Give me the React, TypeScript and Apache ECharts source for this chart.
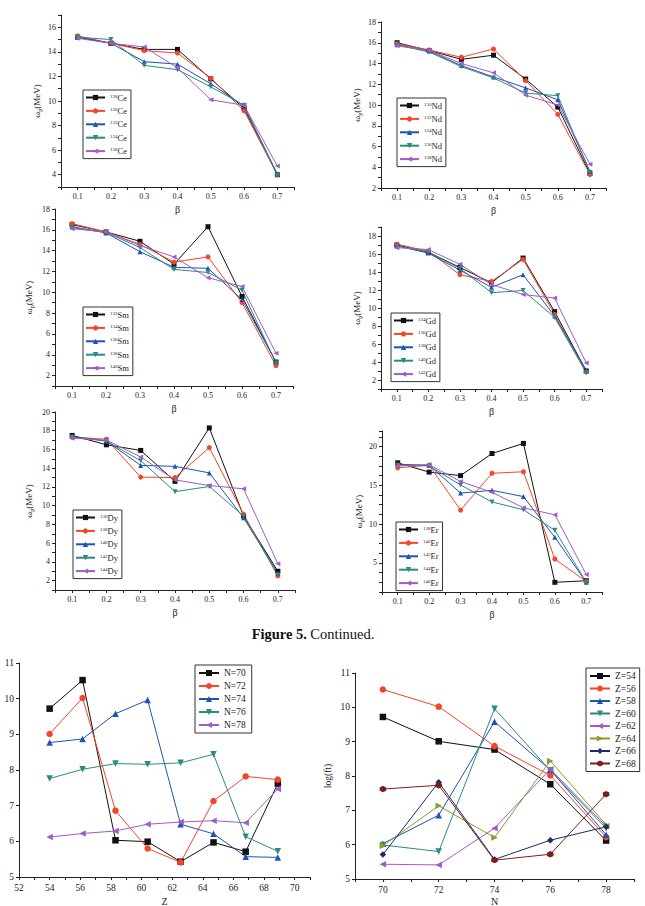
import React, { useEffect, useRef } from 'react';
import * as echarts from 'echarts';

const FONT = '"Liberation Serif", "Times New Roman", Times, serif';

// ---------- data: top six panels (omega_p vs beta) ----------
const betaValues = [0.1, 0.2, 0.3, 0.4, 0.5, 0.6, 0.7];

const ceNames = ['128Ce', '130Ce', '132Ce', '134Ce', '136Ce'];
const ce128 = [15.2, 14.7, 14.2, 14.2, 11.8, 9.4, 4.0];
const ce130 = [15.3, 14.7, 14.1, 13.9, 11.85, 9.2, 4.0];
const ce132 = [15.2, 14.7, 13.2, 13.0, 11.4, 9.6, 4.05];
const ce134 = [15.2, 15.0, 12.9, 12.55, 11.15, 9.65, 3.95];
const ce136 = [15.1, 14.7, 14.4, 12.7, 10.1, 9.65, 4.7];

const ndNames = ['130Nd', '132Nd', '134Nd', '136Nd', '138Nd'];
const nd130 = [16.0, 15.25, 14.4, 14.8, 12.5, 9.8, 3.4];
const nd132 = [15.9, 15.3, 14.6, 15.4, 12.35, 9.1, 3.3];
const nd134 = [15.8, 15.2, 13.8, 12.7, 11.65, 10.5, 3.6];
const nd136 = [15.8, 15.1, 13.7, 12.6, 11.15, 10.9, 3.5];
const nd138 = [15.7, 15.25, 14.0, 13.1, 10.95, 10.0, 4.3];

const smNames = ['132Sm', '134Sm', '136Sm', '138Sm', '140Sm'];
const sm132 = [16.5, 15.8, 14.9, 12.7, 16.3, 9.6, 3.3];
const sm134 = [16.6, 15.8, 14.6, 12.9, 13.4, 9.0, 2.95];
const sm136 = [16.3, 15.7, 13.9, 12.4, 12.3, 9.3, 3.3];
const sm138 = [16.2, 15.75, 14.3, 12.2, 11.9, 10.2, 3.2];
const sm140 = [16.1, 15.8, 14.5, 13.4, 11.4, 10.55, 4.15];

const gdNames = ['134Gd', '136Gd', '138Gd', '140Gd', '142Gd'];
const gd134 = [17.0, 16.2, 14.5, 12.8, 15.55, 9.6, 3.0];
const gd136 = [17.1, 16.3, 13.7, 12.95, 15.4, 9.3, 2.9];
const gd138 = [16.9, 16.1, 14.2, 12.3, 13.7, 9.1, 3.1];
const gd140 = [16.9, 16.2, 14.4, 11.7, 11.95, 8.95, 2.8];
const gd142 = [16.7, 16.5, 14.85, 12.6, 11.5, 11.1, 3.9];

const dyNames = ['136Dy', '138Dy', '140Dy', '142Dy', '144Dy'];
const dy136 = [17.5, 16.5, 15.9, 12.6, 18.3, 8.9, 3.0];
const dy138 = [17.3, 17.1, 13.05, 13.0, 16.2, 9.1, 2.5];
const dy140 = [17.4, 16.9, 14.3, 14.2, 13.5, 8.7, 2.8];
const dy142 = [17.3, 16.9, 14.8, 11.5, 12.05, 8.9, 2.6];
const dy144 = [17.2, 17.0, 15.2, 12.75, 12.15, 11.8, 3.8];

const erNames = ['138Er', '140Er', '142Er', '144Er', '146Er'];
const er138 = [17.9, 16.7, 16.25, 19.1, 20.4, 2.5, 2.7];
const er140 = [17.25, 17.6, 11.8, 16.55, 16.75, 5.5, 2.6];
const er142 = [17.7, 17.6, 14.0, 14.35, 13.55, 8.3, 2.5];
const er144 = [17.6, 17.5, 15.05, 12.85, 11.85, 9.2, 2.5];
const er146 = [17.5, 17.65, 15.5, 14.1, 12.1, 11.2, 3.5];

// ---------- data: bottom two panels (log ft) ----------
const zNuclei = [54, 56, 58, 60, 62, 64, 66, 68];
const zPlotted = [54, 56.15, 58.3, 60.4, 62.55, 64.7, 66.8, 68.9];
const nNuclei = [70, 72, 74, 76, 78];
const logftN70 = [9.72, 10.52, 6.03, 5.99, 5.43, 5.97, 5.71, 7.62];
const logftN72 = [9.01, 10.02, 6.86, 5.8, 5.41, 7.13, 7.82, 7.73];
const logftN74 = [8.77, 8.87, 9.58, 9.96, 6.48, 6.21, 5.57, 5.55];
const logftN76 = [7.76, 8.02, 8.18, 8.16, 8.2, 8.44, 6.13, 5.72];
const logftN78 = [6.12, 6.22, 6.29, 6.48, 6.54, 6.58, 6.52, 7.47];

// ---------- styling ----------
const COLORS = ['#111111', '#f4452a', '#1f52b3', '#2a8b80', '#a35bc7', '#8d9b22', '#1c2a6c', '#7d1e1e'];
const HEX = 'path://M0,-10L8.66,-5L8.66,5L0,10L-8.66,5L-8.66,-5Z';
const SYMBOLS = ['rect', 'circle', 'triangle', 'triangle', 'triangle', 'triangle', 'diamond', HEX];
const ROTATE = [0, 0, 0, 180, 90, -90, 0, 0];

const topPanels = [
  { names: ceNames, values: [ce128, ce130, ce132, ce134, ce136], yMin: 3, yMax: 17, yStep: 1, yLabelStep: 2 },
  { names: ndNames, values: [nd130, nd132, nd134, nd136, nd138], yMin: 2, yMax: 18, yStep: 1, yLabelStep: 2 },
  { names: smNames, values: [sm132, sm134, sm136, sm138, sm140], yMin: 1, yMax: 18, yStep: 1, yLabelStep: 2 },
  { names: gdNames, values: [gd134, gd136, gd138, gd140, gd142], yMin: 1, yMax: 19, yStep: 1, yLabelStep: 2 },
  { names: dyNames, values: [dy136, dy138, dy140, dy142, dy144], yMin: 1, yMax: 20, yStep: 1, yLabelStep: 2 },
  { names: erNames, values: [er138, er140, er142, er144, er146], yMin: 1.25, yMax: 22, yStep: 1.25, yLabelStep: 5 },
];

const topLayout = [
  { l: 61, t: 15, r: 294, b: 187, lgX: 83, lgY: 90, yGap: 18 },
  { l: 381, t: 22, r: 606, b: 188, lgX: 397, lgY: 98, yGap: 18 },
  { l: 55, t: 209, r: 293, b: 386, lgX: 83, lgY: 307, yGap: 20 },
  { l: 381, t: 227, r: 602, b: 389, lgX: 391, lgY: 313, yGap: 18 },
  { l: 55, t: 412, r: 295, b: 590, lgX: 73, lgY: 510, yGap: 20 },
  { l: 382, t: 431, r: 602, b: 592, lgX: 396, lgY: 522, yGap: 16 },
];

const everyLabel = (step: number, digits: number) => (v: number) => {
  const q = v / step;
  return Math.abs(q - Math.round(q)) < 1e-6 ? v.toFixed(digits) : '';
};

const axisCommon = {
  axisLine: { show: true, onZero: false, lineStyle: { color: '#222', width: 1 } },
  axisTick: { show: true, inside: false, length: 3, lineStyle: { color: '#222', width: 1 } },
  splitLine: { show: false },
};

function buildOption() {
  const grid: any[] = [];
  const xAxis: any[] = [];
  const yAxis: any[] = [];
  const legend: any[] = [];
  const series: any[] = [];

  topPanels.forEach((p, i) => {
    const L = topLayout[i];
    grid.push({ left: L.l, top: L.t, width: L.r - L.l, height: L.b - L.t, containLabel: false, outerBoundsMode: 'none' });
    xAxis.push({
      ...axisCommon,
      type: 'value', gridIndex: i, min: 0.05, max: 0.75, interval: 0.05,
      axisLabel: { formatter: everyLabel(0.1, 1), fontSize: 8, fontFamily: FONT, color: '#222', margin: 5 },
      name: 'β', nameLocation: 'middle', nameGap: 17,
      nameTextStyle: { fontSize: 10, fontFamily: FONT, color: '#222' },
    });
    yAxis.push({
      ...axisCommon,
      type: 'value', gridIndex: i, min: p.yMin, max: p.yMax, interval: p.yStep,
      axisLabel: { formatter: everyLabel(p.yLabelStep, 0), fontSize: 8, fontFamily: FONT, color: '#222', margin: 5 },
      name: '{w|ω}{s|p}{w|(MeV)}', nameLocation: 'middle', nameRotate: 90, nameGap: L.yGap,
      nameTextStyle: {
        color: '#222',
        rich: {
          w: { fontSize: 9, fontFamily: FONT, lineHeight: 12, color: '#222' },
          s: { fontSize: 6, fontFamily: FONT, lineHeight: 12, verticalAlign: 'bottom', color: '#222' },
        },
      },
    });
    legend.push({
      orient: 'vertical', left: L.lgX, top: L.lgY, data: p.names, selectedMode: false,
      itemWidth: 19, itemHeight: 6.5, itemGap: 4.4, padding: [3, 4, 3, 2],
      borderColor: '#333', borderWidth: 1, backgroundColor: '#fff',
      formatter: (name: string) => {
        const m = name.match(/^(\d+)(\D+)$/);
        return m ? `{sup|${m[1]}}{el|${m[2]}}` : name;
      },
      textStyle: {
        color: '#222', fontFamily: FONT,
        rich: {
          sup: { fontSize: 5, lineHeight: 8, verticalAlign: 'top', fontFamily: FONT, color: '#222' },
          el: { fontSize: 8.5, lineHeight: 8, fontFamily: FONT, color: '#222' },
        },
      },
    });
    p.names.forEach((name, k) => {
      series.push({
        type: 'line', name, xAxisIndex: i, yAxisIndex: i,
        data: betaValues.map((b, j) => [b, p.values[k][j]]),
        symbol: SYMBOLS[k], symbolRotate: ROTATE[k], symbolSize: 5,
        color: COLORS[k], lineStyle: { width: 1, color: COLORS[k] }, itemStyle: { color: COLORS[k] },
      });
    });
  });

  // bottom-left: log ft vs Z for each N
  const nSeries = [logftN70, logftN72, logftN74, logftN76, logftN78];
  const bl = 6;
  grid.push({ left: 19, top: 663, width: 291, height: 214, containLabel: false, outerBoundsMode: 'none' });
  xAxis.push({
    ...axisCommon, type: 'value', gridIndex: bl, min: 52, max: 71, interval: 1,
    axisLabel: { formatter: everyLabel(2, 0), fontSize: 9.5, fontFamily: FONT, color: '#222', margin: 6 },
    name: 'Z', nameLocation: 'middle', nameGap: 19, nameTextStyle: { fontSize: 10, fontFamily: FONT, color: '#222' },
  });
  yAxis.push({
    ...axisCommon, type: 'value', gridIndex: bl, min: 5, max: 11, interval: 1,
    axisLabel: { fontSize: 9.5, fontFamily: FONT, color: '#222', margin: 5 },
  });
  const nNames = nNuclei.map((n) => `N=${n}`);
  legend.push({
    orient: 'vertical', left: 195, top: 665, data: nNames, selectedMode: false,
    itemWidth: 20, itemHeight: 7.5, itemGap: 3, padding: [3, 6, 3, 3],
    borderColor: '#333', borderWidth: 1, backgroundColor: '#fff',
    textStyle: { fontSize: 9.5, lineHeight: 10, fontFamily: FONT, color: '#222' },
  });
  nNames.forEach((name, k) => {
    series.push({
      type: 'line', name, xAxisIndex: bl, yAxisIndex: bl,
      data: zPlotted.map((z, j) => [z, nSeries[k][j]]),
      symbol: SYMBOLS[k], symbolRotate: ROTATE[k], symbolSize: 6.5,
      color: COLORS[k], lineStyle: { width: 1, color: COLORS[k] }, itemStyle: { color: COLORS[k] },
    });
  });

  // bottom-right: log ft vs N for each Z
  const br = 7;
  grid.push({ left: 355, top: 673, width: 279, height: 206, containLabel: false, outerBoundsMode: 'none' });
  xAxis.push({
    ...axisCommon, type: 'value', gridIndex: br, min: 69, max: 79, interval: 1,
    axisLabel: { formatter: everyLabel(2, 0), fontSize: 9.5, fontFamily: FONT, color: '#222', margin: 6 },
    name: 'N', nameLocation: 'middle', nameGap: 17, nameTextStyle: { fontSize: 10, fontFamily: FONT, color: '#222' },
  });
  yAxis.push({
    ...axisCommon, type: 'value', gridIndex: br, min: 5, max: 11, interval: 1,
    axisLabel: { fontSize: 9.5, fontFamily: FONT, color: '#222', margin: 5 },
    name: 'log(ft)', nameLocation: 'middle', nameRotate: 90, nameGap: 22,
    nameTextStyle: { fontSize: 9.5, fontFamily: FONT, color: '#222' },
  });
  const zNames = zNuclei.map((z) => `Z=${z}`);
  legend.push({
    orient: 'vertical', left: 586, top: 668, data: zNames, selectedMode: false,
    itemWidth: 20, itemHeight: 7.5, itemGap: 2.5, padding: [3, 4, 3, 3],
    borderColor: '#333', borderWidth: 1, backgroundColor: '#fff',
    textStyle: { fontSize: 9.5, lineHeight: 10, fontFamily: FONT, color: '#222' },
  });
  zNames.forEach((name, k) => {
    series.push({
      type: 'line', name, xAxisIndex: br, yAxisIndex: br,
      data: nNuclei.map((n, j) => [n, nSeries[j][k]]),
      symbol: SYMBOLS[k], symbolRotate: ROTATE[k], symbolSize: 6.5,
      color: COLORS[k], lineStyle: { width: 1, color: COLORS[k] }, itemStyle: { color: COLORS[k] },
    });
  });

  return {
    animation: false,
    backgroundColor: '#ffffff',
    grid, xAxis, yAxis, legend, series,
    graphic: [
      {
        type: 'text', x: 313, y: 634,
        style: {
          text: '{b|Figure 5.} {n|Continued.}',
          align: 'center', verticalAlign: 'middle',
          rich: {
            b: { fontSize: 14.5, fontWeight: 'bold', fontFamily: FONT, fill: '#111' },
            n: { fontSize: 14.5, fontFamily: FONT, fill: '#111' },
          },
        },
      },
    ],
  };
}

export default function App() {
  const ref = useRef<HTMLDivElement>(null);
  useEffect(() => {
    if (!ref.current) return;
    const chart = echarts.init(ref.current, undefined, { renderer: 'svg' });
    chart.setOption(buildOption() as any);
    return () => chart.dispose();
  }, []);
  return (
    <div
      ref={ref}
      style={{ position: 'absolute', left: 0, top: 0, width: 645, height: 906, background: '#fff' }}
    />
  );
}
